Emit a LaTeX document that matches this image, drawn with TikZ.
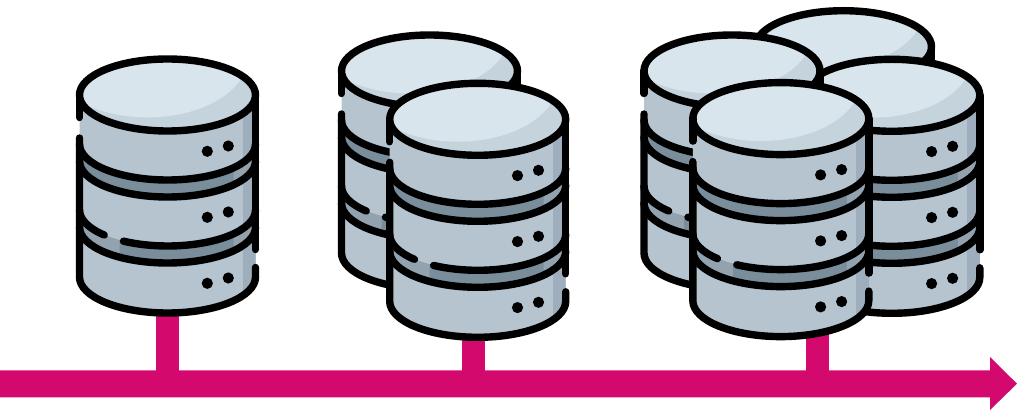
\documentclass[tikz,border=0pt]{standalone}
\definecolor{dbtop}{HTML}{D9E5EC}
\definecolor{dbrim}{HTML}{C5D3DC}
\definecolor{dbbody}{HTML}{B6C4CF}
\definecolor{dbshade}{HTML}{9FAEBC}
\definecolor{dbband}{HTML}{7A8D9A}
\definecolor{dbbandlight}{HTML}{92A2AE}
\definecolor{lineaxis}{HTML}{D4096E}
\tikzset{
  dbline/.style={line width=7.4pt, line cap=round, black},
  dbdot/.style={fill=black, draw=none}
}
% one database drum, #1 = centre of its top face
\newcommand{\dbdrum}[1]{
  \begin{scope}[shift={#1}]
    % Body and shaded right edge
    \fill [dbbody] (-88, 0) -- (-88, -182) arc [start angle=180, end angle=360, x radius=88, y radius=36] -- (88, 0) -- cycle;
    \begin{scope}
      \clip (-88, 0) -- (-88, -182) arc [start angle=180, end angle=360, x radius=88, y radius=36] -- (88, 0) -- cycle;
      \fill [dbshade] (75.5, 0) rectangle (88, -225);
      % Dark bands
      \foreach \yb in {-49, -115} {
        \fill [dbband] (-88, \yb) arc [start angle=180, end angle=360, x radius=88, y radius=36]
          -- (88, \yb-17) arc [start angle=360, end angle=180, x radius=88, y radius=36] -- cycle;
        \begin{scope}
          \clip (66, \yb) rectangle (88, \yb-60);
          \fill [dbbandlight] (-88, \yb) arc [start angle=180, end angle=360, x radius=88, y radius=36]
            -- (88, \yb-17) arc [start angle=360, end angle=180, x radius=88, y radius=36] -- cycle;
        \end{scope}
      }
      % Lighter start of the lower band
      \begin{scope}
        \clip (-88, -115) rectangle (-48, -175);
        \fill [dbbandlight] (-88, -115) arc [start angle=180, end angle=360, x radius=88, y radius=36]
          -- (88, -132) arc [start angle=360, end angle=180, x radius=88, y radius=36] -- cycle;
      \end{scope}
    \end{scope}
    % Top face
    \fill [dbrim] (0, 0) ellipse [x radius=88, y radius=36];
    \begin{scope}
      \clip (0, 0) ellipse [x radius=88, y radius=36];
      \fill [dbtop] (-20, 37.6) ellipse [x radius=100, y radius=60];
    \end{scope}
    \draw [dbline] (0, 0) ellipse [x radius=88, y radius=36];
    % Sides with their gaps
    \draw [dbline] (-88, 0) -- (-88, -22.5);
    \draw [dbline] (-88, -43) -- (-88, -182) arc [start angle=180, end angle=360, x radius=88, y radius=36] -- (88, -172.5);
    \draw [dbline] (88, -154.5) -- (88, 0);
    % Band lines
    \foreach \yb in {-49, -66, -132} {
      \draw [dbline] (-88, \yb) arc [start angle=180, end angle=360, x radius=88, y radius=36];
    }
    \draw [dbline] (-88, -115) arc [start angle=180, end angle=224, x radius=88, y radius=36];
    \draw [dbline] (88, -115) arc [start angle=360, end angle=240, x radius=88, y radius=36];
    % Status lights
    \foreach \yb in {0, -66, -132} {
      \fill [dbdot] (39.8, \yb-56.3) circle (5.6);
      \fill [dbdot] (60.8, \yb-51) circle (5.6);
    }
  \end{scope}
}

\begin{document}
\begin{tikzpicture}[x=1pt, y=1pt]
  \useasboundingbox (0, 0) rectangle (1019, 412);

  % Time line and its stems
  \coordinate (stemA) at (167.5, 100);
  \coordinate (stemB) at (473.7, 100);
  \coordinate (stemC) at (817.3, 100);
  \foreach \stem in {stemA, stemB, stemC} {
    \draw [lineaxis, line width=23pt] (\stem) -- ++(0, -85);
  }
  \fill [lineaxis] (0, 41.7) -- (990, 41.7) -- (990, 55) -- (1017, 28.3) -- (990, 2) -- (990, 14.7) -- (0, 14.7) -- cycle;

  % First stage
  \dbdrum{(167.5, 317)}

  % Second stage
  \dbdrum{(429.5, 341)}
  \dbdrum{(477.7, 292.7)}

  % Third stage
  \dbdrum{(843.5, 365.3)}
  \dbdrum{(891.8, 316.7)}
  \dbdrum{(732, 341)}
  \dbdrum{(780.8, 293.4)}
\end{tikzpicture}
\end{document}
